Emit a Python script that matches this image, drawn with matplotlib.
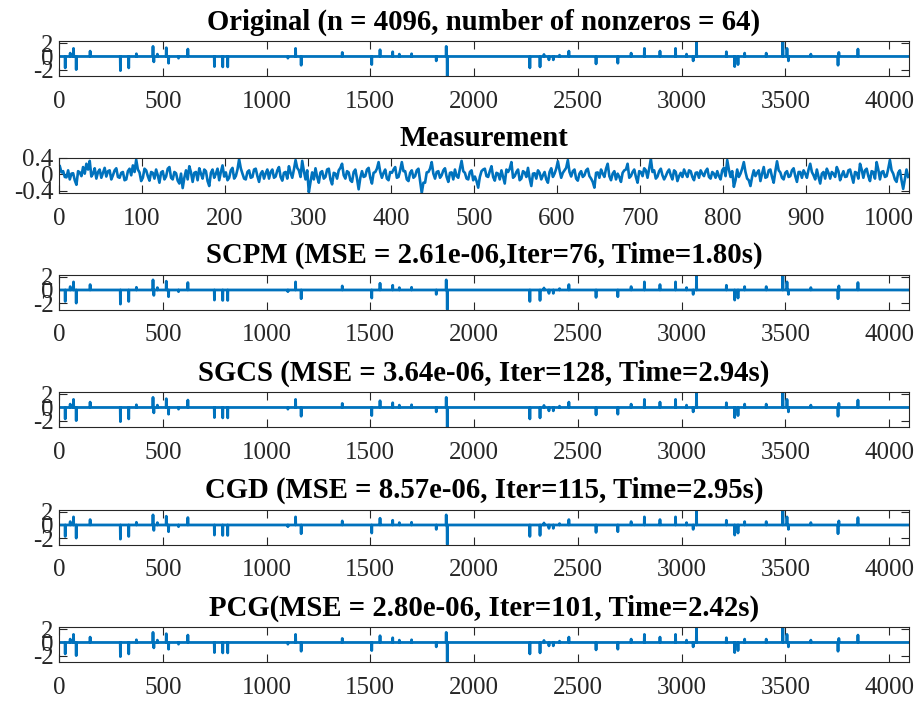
import matplotlib
matplotlib.use('Agg')
import matplotlib.pyplot as plt
import numpy as np

plt.rcParams['font.family'] = ['Liberation Serif', 'DejaVu Serif']

n = 4096
m = 1024

# sparse signal: spike positions and heights
spike_pos = [29, 53, 69, 82, 149, 295, 335, 372, 452, 456, 473, 516, 527, 575, 620, 748, 788, 812,
             1102, 1139, 1166, 1364, 1506, 1546, 1607, 1639, 1698, 1817, 1865, 1870,
             2268, 2317, 2336, 2360, 2381, 2411, 2456, 2587, 2692, 2756, 2820, 2895, 2970,
             3023, 3055, 3071, 3215, 3255, 3271, 3303, 3407, 3487, 3507, 3514, 3622, 3753, 3757, 3849]
spike_val = [-1.7, 0.5, 1.2, -1.95, 0.8, -2.1, -1.7, 0.4, 1.5, -0.8, 0.35, 1.3, -1.0, -0.25, 1.1, -1.5, -1.55, -1.55,
             -0.25, 1.2, -1.3, 0.6, -1.2, 1.0, 0.7, 0.35, 0.4, -0.65, 1.5, -2.9,
             -1.7, -1.55, 0.3, -0.5, -0.5, 0.2, 0.8, -1.1, -1.0, 0.5, 1.2, 0.8, 1.2,
             0.35, -0.65, 2.25, 0.7, -1.5, -1.2, 0.5, 0.5, 2.3, 1.2, -0.65, 0.35, -1.3, 0.6, 1.1]

meas_a = [
    0.20, 0.08, -0.07, -0.12, 0.03, -0.25, 0.05, 0.18, 0.26, 0.33, 0.02, -0.10, 0.12, 0.04, -0.05, 0.10,
    -0.02, 0.15, -0.08, 0.06, -0.12, 0.14, 0.22, 0.36, 0.05, -0.08, 0.10, -0.15, 0.04, 0.12, -0.20, 0.08,
    -0.05, 0.18, -0.12, 0.03, -0.22, -0.33, 0.10, 0.20, -0.18, 0.06, 0.15, -0.10, 0.08, -0.28, 0.12, 0.02,
    -0.14, 0.22, 0.05, -0.08, 0.16, -0.04, 0.37, 0.02, -0.12, 0.10, -0.06, 0.14, -0.18, 0.08, 0.03, -0.10,
    0.12, -0.05, 0.18, -0.15, 0.06, 0.20, -0.08, 0.35, 0.10, 0.33, -0.12, -0.43, 0.05, 0.15, -0.20, 0.08,
    -0.06, 0.14, -0.24, 0.02, 0.10, 0.26, -0.10, 0.05, -0.18, 0.12, -0.36, 0.08, -0.04, 0.16, -0.22, 0.06,
    0.30, -0.08, 0.12, -0.14, 0.04, 0.18, -0.06, 0.30, 0.08, -0.16, 0.10, -0.04, 0.14, -0.45, -0.20, 0.06,
    0.30, -0.10, 0.08, -0.02, 0.15, -0.18, 0.05, 0.12, -0.08, 0.33, 0.04, -0.12, 0.10, -0.05, -0.32, 0.08,
    0.14, -0.06, 0.20, -0.15, 0.02, 0.10, -0.22, 0.06, 0.30, -0.04, 0.12, -0.10, 0.05, 0.16, -0.28, 0.03,
    0.10, -0.12, 0.06, -0.20, 0.15, 0.02, 0.32, -0.08, 0.10, 0.35, -0.05, 0.12, -0.15, 0.08, -0.02, 0.14,
    -0.10, -0.32, 0.05, 0.12, -0.06, 0.26, -0.14, 0.08, 0.02, -0.18, 0.10, 0.26, -0.04, 0.12, -0.20, 0.06,
    0.15, -0.08, 0.38, 0.10, -0.05, 0.14, -0.12, 0.06, -0.02, 0.10, -0.16, 0.04, 0.12, -0.06, 0.08, -0.14,
    0.05, 0.10, -0.04, 0.14, -0.10, 0.02, 0.08, -0.12, 0.16, 0.35, -0.06, -0.30, 0.12, 0.02, 0.30, -0.10,
    -0.28, 0.10, 0.04, -0.16, 0.18, -0.06, 0.12, -0.20, 0.32, 0.05, -0.12, 0.08, -0.04, 0.15, -0.18, 0.06,
    0.10, -0.08, 0.26, -0.02, 0.12, -0.22, 0.06, 0.14, -0.10, 0.02, 0.18, -0.14, 0.08, -0.05, 0.12, -0.20,
    0.04, 0.26, -0.08, 0.14, -0.16, 0.06, 0.30, -0.12, 0.08, -0.04, 0.35, 0.02, -0.18, 0.10, -0.35, 0.12,
]
meas_b = [
    0.05, -0.06, 0.10, 0.02, -0.14, 0.08, -0.04, 0.02, 0.12, -0.05, 0.15, 0.06, -0.08, 0.16, 0.08, -0.12,
    0.10, -0.06, 0.04, -0.14, 0.08, -0.02, 0.06, 0.12, -0.16, 0.14, -0.04, 0.06, -0.10, -0.02, 0.05, -0.12,
    0.14, -0.08, 0.06, -0.15, 0.02, -0.08, -0.12, 0.05, 0.04, -0.14, 0.02, 0.12, -0.16, 0.04, -0.08, 0.14,
    0.06, -0.05, -0.14, 0.10, -0.10, 0.12, 0.15, -0.10, 0.06, -0.08, 0.12, -0.04, 0.02, -0.10, 0.12, 0.06,
    -0.08, 0.10, -0.06, 0.04, -0.10, 0.04, 0.12, 0.16, -0.06, 0.08, 0.10, -0.18, -0.12, -0.06, 0.05, -0.10,
    0.12, -0.12, 0.04, -0.10, 0.16, -0.02, 0.08, -0.14, 0.06, -0.10, -0.08, -0.06, 0.12, -0.08, 0.04, 0.14,
    0.06, 0.04, -0.10, 0.06, 0.12, -0.08, 0.10, 0.08, -0.12, 0.04, -0.08, 0.10, -0.16, -0.20, 0.05, 0.14,
    0.02, 0.06, -0.08, 0.10, -0.06, 0.04, -0.12, -0.04, 0.14, 0.08, -0.10, 0.06, -0.14, -0.16, -0.06, 0.12,
    -0.04, 0.08, -0.06, 0.04, -0.12, -0.06, 0.12, 0.14, -0.08, 0.06, -0.14, 0.08, -0.06, -0.10, 0.02, -0.10,
    0.04, -0.02, -0.12, 0.06, -0.06, 0.14, 0.10, 0.04, 0.16, 0.06, 0.08, -0.10, 0.02, -0.06, 0.10, -0.04,
    -0.18, 0.04, -0.08, 0.02, 0.14, -0.04, 0.02, -0.12, -0.06, 0.04, 0.12, -0.08, 0.06, -0.06, 0.08, -0.04,
    0.10, 0.14, 0.06, -0.10, 0.08, -0.02, -0.04, 0.12, -0.12, 0.06, -0.04, -0.06, 0.02, 0.10, -0.06, 0.04,
    -0.08, 0.02, 0.08, -0.06, 0.06, -0.08, -0.04, 0.10, -0.04, 0.12, 0.08, -0.14, -0.06, 0.14, 0.06, -0.14,
    -0.06, -0.04, 0.10, 0.02, -0.08, 0.10, -0.06, 0.08, 0.10, -0.08, 0.04, -0.06, 0.10, -0.04, 0.06, -0.08,
    0.02, 0.12, 0.06, -0.12, -0.06, 0.02, -0.10, 0.04, 0.06, -0.06, 0.08, -0.02, -0.06, 0.10, -0.04, 0.06,
    -0.10, 0.12, 0.10, -0.04, 0.08, -0.10, 0.12, 0.06, -0.06, 0.14, 0.10, -0.12, 0.04, -0.14, -0.12, -0.06,
]

titles = ['Original (n = 4096, number of nonzeros = 64)',
          'Measurement',
          'SCPM (MSE = 2.61e-06,Iter=76, Time=1.80s)',
          'SGCS (MSE = 3.64e-06, Iter=128, Time=2.94s)',
          'CGD (MSE = 8.57e-06, Iter=115, Time=2.95s)',
          'PCG(MSE = 2.80e-06, Iter=101, Time=2.42s)']

x_orig = np.zeros(n)
x_orig[np.array(spike_pos)] = spike_val
# reconstructions are visually identical to the original
recons = [x_orig, x_orig, x_orig, x_orig]

meas = np.column_stack([meas_a, meas_b]).ravel()
meas_x = np.arange(1, len(meas) * 2, 2)

W, H = 918, 701
fig = plt.figure(figsize=(W / 100, H / 100), dpi=100)

blue = '#0072BD'
axcol = '#262626'
left, right = 59, 909
tops = [41, 158, 274.5, 392, 509.5, 627]
height = 35

for k, top in enumerate(tops):
    ax = fig.add_axes([left / W, 1 - (top + height) / H, (right - left) / W, height / H])
    if k == 1:
        ax.plot(meas_x, meas, color=blue, lw=1.9)
        ax.set_xlim(1, m)
        ax.set_ylim(meas.min(), meas.max())
        ax.set_xticks(np.arange(0, 1001, 100))
        ax.set_yticks([-0.4, 0, 0.4])
        ax.set_yticklabels(['-0.4', '0', '0.4'])
    else:
        sig = x_orig if k == 0 else recons[k - 2]
        ax.plot(np.arange(1, n + 1), sig, color=blue, lw=2.0)
        ax.set_xlim(1, n)
        ax.set_ylim(sig.min(), sig.max())
        ax.set_xticks(np.arange(0, 4001, 500))
        ax.set_yticks([-2, 0, 2])
        ax.set_yticklabels(['-2', '0', '2'])
    ax.set_title(titles[k], fontweight='bold', fontsize=20.7, pad=8.5, color='black')
    ax.tick_params(direction='in', length=6, width=0.8, colors=axcol, labelsize=18,
                   top=True, right=True)
    ax.tick_params(axis='x', pad=10.5)
    ax.tick_params(axis='y', pad=4)
    for s in ax.spines.values():
        s.set_color(axcol)
        s.set_linewidth(0.8)

fig.savefig('out.png', dpi=100)
